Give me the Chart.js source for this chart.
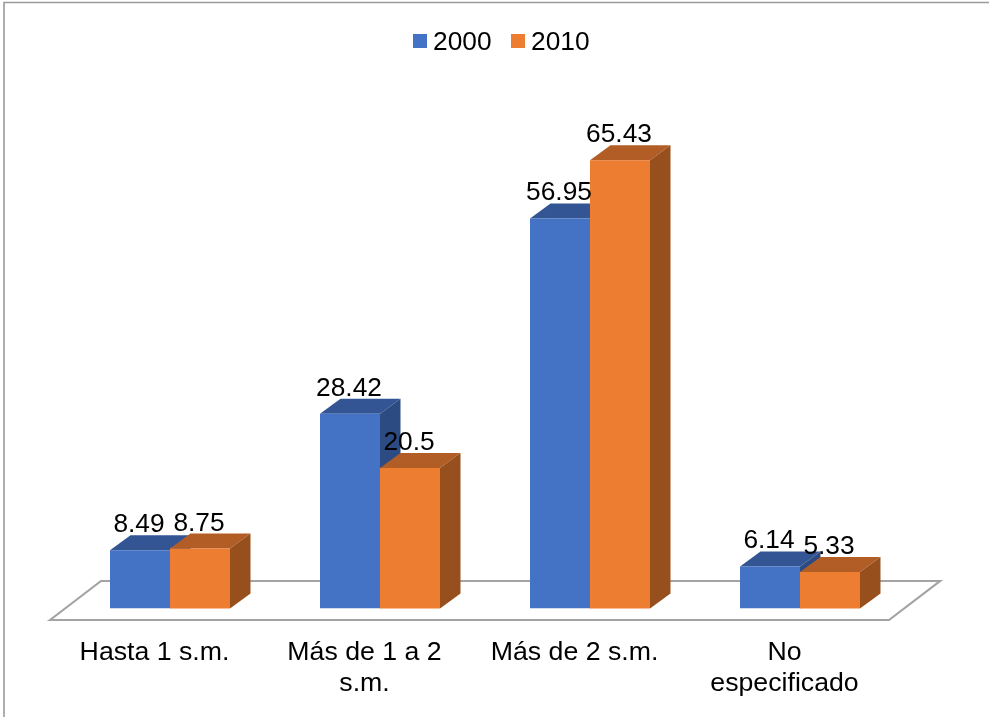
<!DOCTYPE html>
<html><head><meta charset="utf-8">
<style>html,body{margin:0;padding:0;background:#fff}canvas{display:block}</style>
<script src="https://cdn.jsdelivr.net/npm/chart.js@4/dist/chart.umd.min.js"></script>
</head><body><canvas id="c" width="989" height="717"></canvas>
<script>
const categories = ["Hasta 1 s.m.", ["Más de 1 a 2","s.m."], "Más de 2 s.m.", ["No","especificado"]];
const values2000 = [8.49, 28.42, 56.95, 6.14];
const values2010 = [8.75, 20.5, 65.43, 5.33];
const FONT = '"Liberation Sans", Arial, sans-serif';
const DX = 20.5, DY = 15;
const shades = {
  '#4472C4': {top:'#335593', side:'#2C4B82'},
  '#ED7D31': {top:'#B25D25', side:'#97501D'}
};
function poly(ctx, pts, fill, stroke, lw){
  ctx.beginPath();
  pts.forEach((p,i)=> i?ctx.lineTo(p[0],p[1]):ctx.moveTo(p[0],p[1]));
  ctx.closePath();
  if(fill){ctx.fillStyle=fill;ctx.fill();}
  if(stroke){ctx.strokeStyle=stroke;ctx.lineWidth=lw;ctx.stroke();}
}
function faces(ctx, meta, col){
  meta.data.forEach(b=>{
    const l=b.x-b.width/2, r=b.x+b.width/2, t=b.y, bt=b.base;
    poly(ctx,[[l,t],[l+DX,t-DY],[r+DX,t-DY],[r,t]],shades[col].top);
    poly(ctx,[[r,t],[r+DX,t-DY],[r+DX,bt-DY],[r,bt]],shades[col].side);
  });
}
const bars3d = {
  id:'bars3d',
  beforeDraw(chart){
    const ctx=chart.ctx; ctx.save();
    ctx.strokeStyle='#9A9A9A'; ctx.lineWidth=1.6;
    ctx.beginPath(); ctx.moveTo(4,717); ctx.lineTo(4,2.5); ctx.lineTo(989,2.5); ctx.stroke();
    poly(ctx,[[50,620],[101,581],[940,581],[889,620]],'#fff','#A3A3A3',2.2);
    ctx.restore();
  },
  beforeDatasetDraw(chart,args){
    if(args.index===1) return false;
    const ctx=chart.ctx;
    ctx.save(); faces(ctx,args.meta,chart.data.datasets[0].backgroundColor); ctx.restore();
  },
  afterDatasetDraw(chart,args){
    if(args.index!==0) return;
    const ctx=chart.ctx, m=chart.getDatasetMeta(1);
    ctx.save(); faces(ctx,m,chart.data.datasets[1].backgroundColor);
    m.data.forEach(el=>el.draw(ctx)); ctx.restore();
  },
  afterDraw(chart){
    const ctx=chart.ctx; ctx.save();
    ctx.font='26.3px '+FONT; ctx.fillStyle='#000'; ctx.textBaseline='alphabetic'; ctx.textAlign='center';
    chart.data.datasets.forEach((ds,i)=>{
      chart.getDatasetMeta(i).data.forEach((b,j)=>{
        ctx.fillText(String(ds.data[j]), b.x-1, b.y-18);
      });
    });
    ctx.textAlign='left';
    const lx=[413,511];
    chart.data.datasets.forEach((ds,i)=>{
      ctx.fillStyle=ds.backgroundColor; ctx.fillRect(lx[i],34,14,14);
      ctx.fillStyle='#000'; ctx.fillText(ds.label,lx[i]+20,50);
    });
    ctx.restore();
  }
};
new Chart(document.getElementById('c'),{
  type:'bar',
  data:{labels:categories,datasets:[
    {label:'2000',data:values2000,backgroundColor:'#4472C4',inflateAmount:0},
    {label:'2010',data:values2010,backgroundColor:'#ED7D31',inflateAmount:0}
  ]},
  options:{
    responsive:false,animation:false,
    layout:{padding:{left:65,right:84,top:129,bottom:0}},
    categoryPercentage:120/210,barPercentage:1,
    plugins:{legend:{display:false},tooltip:{enabled:false},title:{display:false}},
    scales:{
      x:{grid:{display:false,drawTicks:false},border:{display:false},
         afterFit(s){s.height=108.5;},
         ticks:{color:'#000',font:{family:FONT,size:26.7,lineHeight:1.16},padding:29,maxRotation:0,minRotation:0,autoSkip:false,labelOffset:-15.5}},
      y:{display:false,min:0,max:70}
    }
  },
  plugins:[bars3d]
});
</script></body></html>
